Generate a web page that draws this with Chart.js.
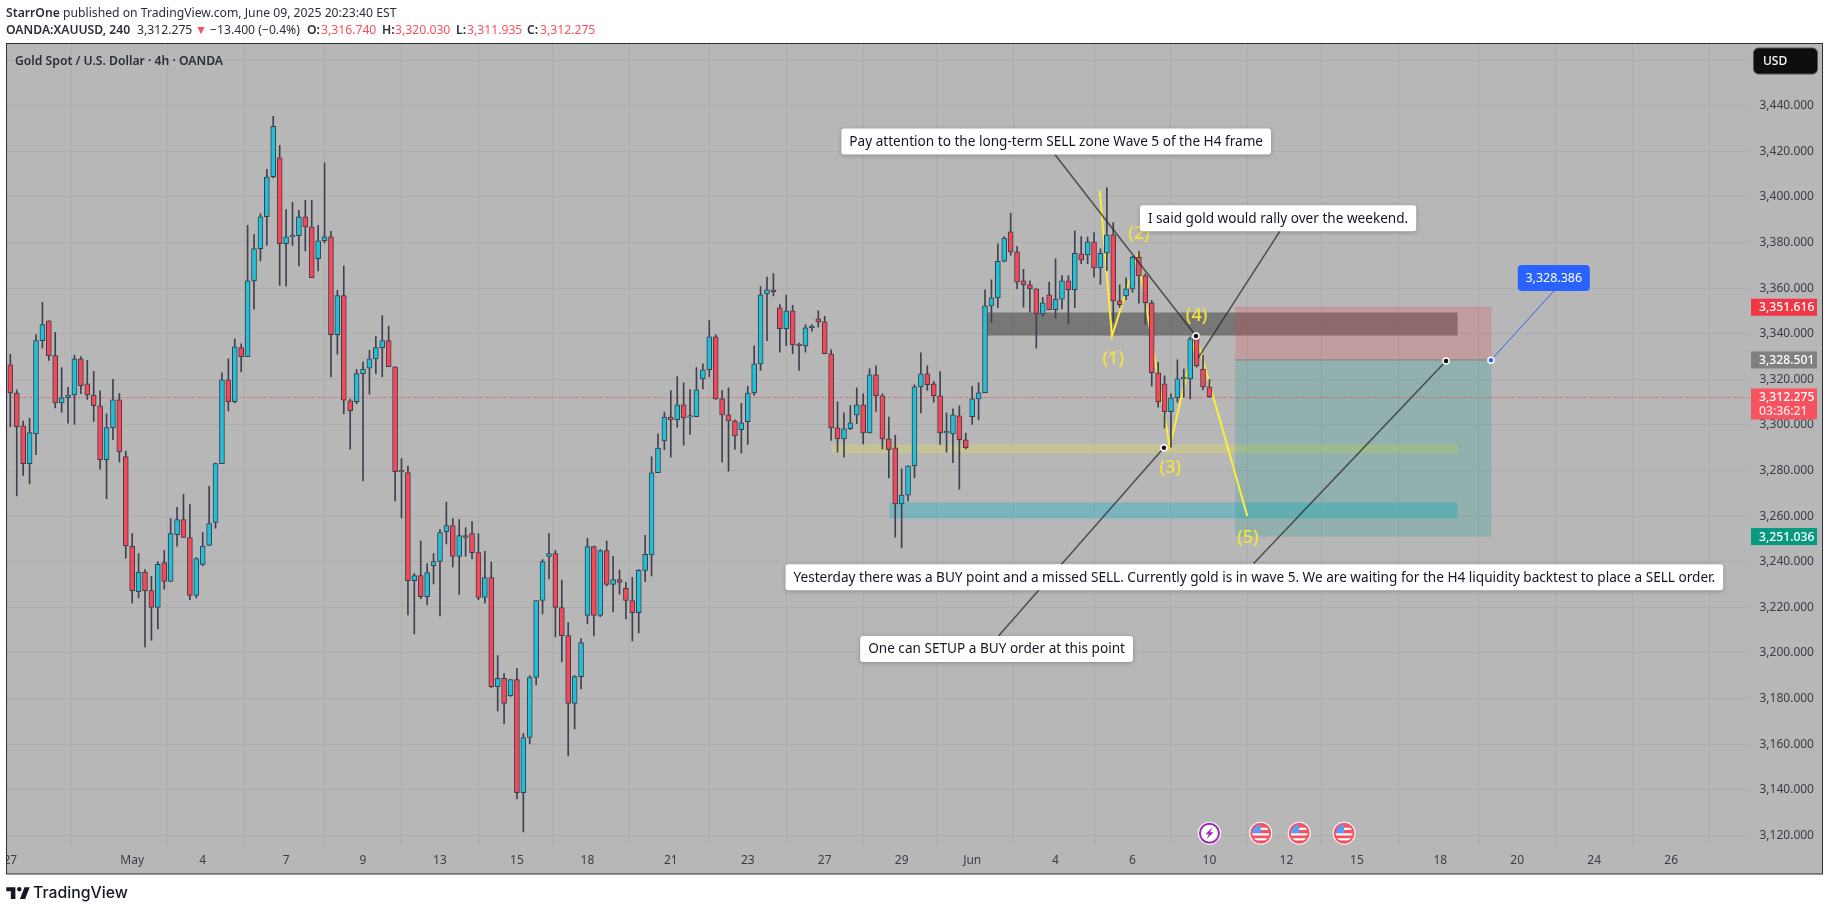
<!DOCTYPE html>
<html><head><meta charset="utf-8">
<style>
html,body{margin:0;padding:0;background:#fff;width:1829px;height:911px;overflow:hidden}
#wrap{position:relative;width:1829px;height:911px}
canvas{position:absolute;left:0;top:0}
.t{position:absolute;white-space:nowrap;font-family:"Noto Sans",sans-serif;font-size:12.2px;line-height:16px;color:#2a2e39}
.b{font-weight:600}.r{color:#f7525f}
</style></head><body><div id="wrap">
<canvas id="c" width="1829" height="911"></canvas>
<div class="t b" style="left:6px;top:5px">StarrOne<span style="font-weight:400"> published on TradingView.com, June 09, 2025 20:23:40 EST</span></div>
<div class="t b" style="left:6px;top:22px">OANDA:XAUUSD, 240</div>
<div class="t" style="left:137px;top:22px">3,312.275</div>
<div class="t r" style="left:195px;top:22px">▼</div>
<div class="t" style="left:210px;top:22px">−13.400 (−0.4%)</div>
<div class="t b" style="left:307px;top:22px">O:</div><div class="t r" style="left:321px;top:22px">3,316.740</div>
<div class="t b" style="left:382px;top:22px">H:</div><div class="t r" style="left:395px;top:22px">3,320.030</div>
<div class="t b" style="left:456px;top:22px">L:</div><div class="t r" style="left:467px;top:22px">3,311.935</div>
<div class="t b" style="left:527px;top:22px">C:</div><div class="t r" style="left:540px;top:22px">3,312.275</div>
<div class="t b" style="left:15px;top:53px">Gold Spot / U.S. Dollar · 4h · OANDA</div>
<svg style="position:absolute;left:6px;top:886px" width="24" height="13" viewBox="0 0 36 20"><path fill="#131722" d="M14 2H0v6h7v12h7V2ZM29 20h-8l7-18h8L29 20Z"/><circle cx="20" cy="5" r="3.4" fill="#131722"/></svg>
<div class="t" style="left:33px;top:882px;font-size:15.8px;line-height:22px;font-weight:500;color:#131722;font-family:Inter,sans-serif">TradingView</div>
</div>
<script src="https://cdn.jsdelivr.net/npm/chart.js@4/dist/chart.umd.min.js"></script>
<script>
const candleOpen=[3326.4,3314,3299.6,3283,3296.1,3337,3345.7,3330.4,3309.7,3311.9,
3313.2,3329,3318,3313.1,3308.4,3284.8,3298.8,3311,3286.1,3246.9,
3226.9,3235.5,3227.3,3219.9,3239.6,3231.3,3251.9,3258.5,3250.6,3225.2,
3238.8,3247.1,3257.2,3283,3319.8,3310.2,3333.9,3329.9,3363.2,3377.3,
3391.3,3408.9,3417.2,3379.5,3382.5,3383,3391.3,3386.9,3372.9,3380.8,
3382.5,3339.6,3356.7,3310.6,3310.2,3322.5,3324.9,3329,3333.9,3337,
3325.5,3279.6,3279.1,3231.7,3233.9,3224.7,3238.3,3240.1,3253.2,3255.9,
3242.3,3251.5,3252.3,3244,3224.3,3233,3185.2,3188.8,3181.2,3188.3,
3138.7,3162.9,3189.2,3223,3242.3,3243.6,3219.9,3207.6,3177.8,3189.6,
3216.4,3246.6,3216.4,3244.9,3230,3232.2,3228.3,3223,3217.7,3236.2,
3243,3279,3293,3303.4,3302.2,3308.8,3303.4,3303.6,3320.2,3324.2,
3338.6,3311.4,3304.4,3301.8,3297.9,3301.4,3314,3326.8,3357.5,3359.3,
3351.4,3342.2,3350,3335.1,3334.7,3342.6,3346.5,3345.2,3331.2,3298.7,
3293.9,3298.3,3304.4,3308.8,3296.5,3322,3312.8,3293.9,3290,3265.4,
3269.2,3282.1,3316.7,3322.4,3318,3312.8,3296.5,3296,3304,3293.5,
3303.6,3311.4,3314.1,3352.2,3355.7,3371.8,3384.7,3375.9,3363.2,3361.5,
3359.7,3348.7,3357.1,3350.5,3355.2,3363.2,3359.3,3375,3374.6,3380.3,
3368.9,3375.3,3383.4,3354.4,3356.6,3359.7,3373.6,3365.4,3353.6,3322.9,
3318,3305.8,3311.9,3320.2,3320.2,3338.5,3324.5,3316.74];
const candleHigh=[3331,3315.4,3301.7,3302.9,3339.6,3353.8,3345.7,3340.6,3325.2,3316.5,
3330.6,3330,3328.3,3323.5,3315,3304.9,3320,3313.7,3288.5,3252.3,
3243.6,3236.6,3233.6,3239.9,3245,3258.9,3263.8,3269.6,3265.1,3241.8,
3252.8,3273.1,3283.3,3322.9,3329,3337.8,3335.6,3387.5,3383.6,3392.6,
3412.1,3435.3,3422.6,3394.4,3397.6,3394.1,3398.5,3398.5,3387.5,3415,
3384.9,3359,3369.8,3311.3,3324.4,3327.7,3332.7,3338.7,3348,3343.2,
3325.5,3285.2,3281.9,3234.8,3249,3239.2,3243.6,3254.1,3266.1,3258.9,
3258.5,3255,3257.6,3252.3,3244.5,3239.8,3198.8,3190.9,3188.3,3193.1,
3164.6,3190.1,3223,3240.9,3252.3,3244.9,3231.9,3213.3,3190.1,3206.3,
3250.2,3246.9,3245.3,3249,3242.4,3236.3,3231,3233.1,3236.6,3251.6,
3286,3296.1,3305.6,3315.1,3321.2,3318.5,3315.5,3325.2,3326.8,3345.8,
3339.5,3315.1,3316.3,3302.2,3309.5,3316.9,3334.7,3360.7,3364.8,3366.4,
3352.8,3357,3352.4,3335.9,3344,3344,3350,3347.6,3332.9,3310.1,
3305.3,3308.5,3316.3,3313.6,3324.6,3325.9,3313.6,3303.4,3295.4,3280.7,
3282.1,3317.6,3331.6,3325.9,3319,3323.4,3305.2,3307.1,3308.4,3296.4,
3316.9,3318.5,3359.3,3363.6,3379.4,3382.6,3392.9,3378.3,3368.2,3363.2,
3359.7,3356,3362.6,3372.9,3365.5,3365.5,3385.1,3382.6,3382.4,3384.4,
3377.2,3404,3388.8,3361.5,3364.5,3373.9,3376,3366.3,3354.6,3327.4,
3321.5,3313.6,3328.6,3324.5,3338.5,3340,3330.5,3320.03];
const candleLow=[3299.1,3268.9,3277.9,3274.1,3287,3333.7,3328.3,3307.5,3305.6,3300.8,
3300.2,3313.7,3311.2,3301.5,3280.6,3267.6,3293.5,3283.8,3241.5,3221.9,
3224.1,3202.6,3205.6,3210.5,3227.9,3231.3,3246.8,3250.6,3223.3,3224.1,
3238.3,3247.1,3254.7,3283,3306.1,3309.7,3323.2,3329.9,3350.8,3371.9,
3378.7,3408.3,3361.2,3360.9,3378.7,3369.7,3376.3,3364.6,3367.5,3379.8,
3321,3331,3304.8,3289.4,3309.3,3275.4,3313.5,3322.5,3321,3325.5,
3266.7,3259.2,3216.7,3208.3,3223.8,3221,3230.3,3216.2,3247.8,3237.7,
3225.7,3242.4,3241.2,3223.4,3221.9,3184.8,3174.6,3168.9,3180.9,3136,
3121.5,3160.1,3186,3217.1,3232.5,3207,3196.1,3154.8,3166.7,3184.2,
3212.7,3207.5,3215.9,3229.4,3218,3225.8,3214.9,3205.3,3208.8,3231.2,
3233.8,3279,3289.1,3285.9,3299,3291.1,3295.8,3303.6,3315.8,3321,
3311.2,3283.7,3279.7,3289.2,3287.6,3291.4,3312.9,3323.9,3337,3356.6,
3331.9,3334.8,3331.2,3323.9,3331.9,3341.1,3342.9,3331.2,3293.2,3288.1,
3285.9,3297.9,3300.5,3291.7,3296.5,3305.9,3289.5,3276.7,3250.8,3246.1,
3266.6,3276.7,3305.3,3315.1,3310,3291.4,3288.1,3283.4,3271.8,3289.5,
3300.2,3302.2,3314.1,3345.1,3351.4,3371.5,3374.5,3359.8,3351.7,3349.5,
3333.7,3347.7,3350.5,3346.8,3350.9,3344.3,3351.4,3370.7,3370.7,3364.8,
3361.6,3367.7,3345,3351.5,3354.9,3358.2,3353.4,3344.1,3317,3307.8,
3298.7,3290.2,3310,3312.2,3311.4,3325.3,3315.3,3311.935];
const candleClose=[3314,3299.2,3283,3296.6,3337,3344,3330.4,3309.7,3311.9,3313.1,
3329,3317.2,3313.2,3308.4,3284.8,3298.8,3311,3288.2,3246.9,3227.3,
3235.5,3227.3,3219.9,3238.8,3231.3,3252.3,3258.5,3250.6,3225.2,3241.4,
3246.9,3256.7,3283,3319.8,3310.2,3334.2,3329.9,3363.2,3377.3,3391.3,
3408.7,3431,3379.5,3382.5,3383,3391.3,3386.9,3364.6,3380.8,3382.5,
3339.6,3356.7,3310.8,3306.2,3322.5,3324.5,3329,3333.9,3337,3325.5,
3279.5,3279.4,3231.7,3233.9,3224.7,3235.2,3240.1,3252.8,3255.9,3242.3,
3251.5,3250.6,3244,3224.3,3233,3185.2,3188.8,3177.8,3188.3,3138.7,
3162.9,3189.2,3223,3240.1,3243.6,3219.9,3207.6,3177.8,3189.6,3204.5,
3246.6,3216.4,3244.9,3230,3232.2,3230.9,3223,3217.7,3236.2,3243.2,
3279,3289.8,3303.4,3302.2,3308.8,3303.1,3303.6,3315.4,3324.2,3338.6,
3311.4,3304.4,3301.8,3295.2,3300.9,3314,3326.8,3357.1,3359.3,3358.4,
3342.2,3350,3335.1,3334.8,3342.6,3342.9,3345.2,3331.2,3298.7,3293.9,
3298.3,3300.9,3308.8,3296.5,3322,3312.8,3293.9,3289.1,3265.4,3269.2,
3282.1,3316.7,3322.4,3317.6,3312.8,3296.5,3296.7,3304.4,3293.5,3290,
3311.4,3314.1,3352.2,3355.7,3371.8,3382,3375.9,3362.6,3361.5,3359.7,
3348.7,3353.6,3350.5,3355.2,3363.2,3359.3,3375.3,3372.4,3380.3,3368.9,
3375.3,3383.4,3354.4,3352.7,3359.7,3373.6,3365.4,3353.6,3322.9,3310.1,
3305.8,3311.9,3320.2,3320.4,3337.8,3325.9,3316.7,3312.275];

const timeTickIndex=[0,19,30,43,55,67,79,90,103,115,127,139,150,163,175,187,199,210,223,235,247,259];
const timeTickLabel=["27","May","4","7","9","13","15","18","21","23","27","29","Jun","4","6","10","12","15","18","20","24","26"];
const priceTicks=[3120,3140,3160,3180,3200,3220,3240,3260,3280,3300,3320,3340,3360,3380,3400,3420,3440,3460];

const waveIndex=[169.9,171.8,175.8,180.8,184.9,192.9];
const wavePrice=[3402.8,3338.9,3374.4,3290.4,3339,3260];
const waveLabelIndex=[172,176,180.9,185,193];
const waveLabelPrice=[3329,3383.6,3281,3348,3250.6];
const waveLabelText=["(1)","(2)","(3)","(4)","(5)"];

const zoneStart=[152.2,128.1,137.1];
const zoneEnd=[225.7,225.7,225.7];
const zoneTop=[3349.3,3291.4,3266];
const zoneBottom=[3339.2,3287.5,3259];
const zoneFill=["rgba(55,55,55,0.5)","rgba(235,225,70,0.3)","rgba(30,175,200,0.38)"];

const posStart=191, posEnd=231;
const posStop=3351.616, posEntry=3328.501, posTarget=3251.036;
const lastPrice=3312.275;

const trendLines=[
 {x:[162.9,184.9],y:[3418.6,3339]},
 {x:[198,185.2],y:[3385,3329.2]},
 {x:[154.1,179.9],y:[3207.4,3290]},
 {x:[193.9,223.9],y:[3239.2,3328]}
];
const anchorIndex=[179.9,184.9,223.9];
const anchorPrice=[3290,3339,3328];
const blueLineIndex=[230.9,240.7];
const blueLinePrice=[3328.4,3358.7];

const calloutText=["Pay attention to the long-term SELL zone Wave 5 of the H4 frame","I said gold would rally over the weekend.","Yesterday there was a BUY point and a missed SELL. Currently gold is in wave 5. We are waiting for the H4 liquidity backtest to place a SELL order.","One can SETUP a BUY order at this point"];
const calloutIndex=[163.1,197.7,194,153.8];
const calloutPrice=[3424.35,3390.7,3233.2,3201.7];

const eventIndex=[187,195,201,208];
const eventKind=["bolt","us","us","us"];
const eventPrice=3120.9;

const FONT='"Noto Sans",sans-serif';
const BG='#b7b7b7', GRID='#adadad';
const pts=(xs,ys)=>xs.map((x,i)=>({x,y:ys[i]}));

const framePlugin={id:'frame',
 beforeDraw(ch){const c=ch.ctx;c.save();c.fillStyle=BG;c.fillRect(6,43,1817,831);c.restore();},
 beforeDatasetsDraw(ch){
  const c=ch.ctx,X=ch.scales.x,Y=ch.scales.y;c.save();
  zoneStart.forEach((s,i)=>{c.fillStyle=zoneFill[i];
   const x0=X.getPixelForValue(s),x1=X.getPixelForValue(zoneEnd[i]),y0=Y.getPixelForValue(zoneTop[i]),y1=Y.getPixelForValue(zoneBottom[i]);
   c.fillRect(x0,y0,x1-x0,y1-y0);});
  const a=X.getPixelForValue(posStart),b=X.getPixelForValue(posEnd),s=Y.getPixelForValue(posStop),e=Y.getPixelForValue(posEntry),t=Y.getPixelForValue(posTarget);
  c.fillStyle='rgba(242,54,69,0.2)';c.fillRect(a,s,b-a,e-s);
  c.fillStyle='rgba(0,150,136,0.2)';c.fillRect(a,e,b-a,t-e);
  c.strokeStyle='rgba(242,54,69,0.25)';c.lineWidth=1;c.beginPath();c.moveTo(a,s+.5);c.lineTo(b,s+.5);c.stroke();
  c.strokeStyle='#808080';c.beginPath();c.moveTo(a,e);c.lineTo(b,e);c.stroke();
  const l=Y.getPixelForValue(lastPrice);
  c.strokeStyle='#f23645';c.setLineDash([1,2]);c.beginPath();c.moveTo(ch.chartArea.left,Math.round(l)+.5);c.lineTo(ch.chartArea.right,Math.round(l)+.5);c.stroke();
  c.restore();
 },
 afterDatasetsDraw(ch){
  const c=ch.ctx,X=ch.scales.x,Y=ch.scales.y;c.save();
  c.textAlign='center';c.textBaseline='middle';
  c.font='500 18px '+FONT;c.fillStyle='#f5e33b';
  waveLabelText.forEach((t,i)=>c.fillText(t,X.getPixelForValue(waveLabelIndex[i]),Y.getPixelForValue(waveLabelPrice[i])));
  c.font='13.6px '+FONT;
  calloutText.forEach((t,i)=>{
   const w=c.measureText(t).width+16,h=26,x=X.getPixelForValue(calloutIndex[i])-w/2,y=Y.getPixelForValue(calloutPrice[i])-h/2;
   c.save();c.shadowColor='rgba(0,0,0,0.25)';c.shadowBlur=4;c.shadowOffsetY=1;c.fillStyle='#fff';
   c.beginPath();c.roundRect(x,y,w,h,3);c.fill();c.restore();
   c.fillStyle='#131722';c.fillText(t,x+w/2,y+h/2+.5);
  });
  const bx=X.getPixelForValue(blueLineIndex[1]),by=Y.getPixelForValue(blueLinePrice[1]);
  c.fillStyle='#2962ff';c.beginPath();c.roundRect(bx-36,by-26,72,26,4);c.fill();
  c.fillStyle='#fff';c.font='12.5px '+FONT;c.fillText('3,328.386',bx,by-13);
  eventIndex.forEach((v,i)=>{
   const x=X.getPixelForValue(v),y=Y.getPixelForValue(eventPrice);
   c.fillStyle='#fff';c.beginPath();c.arc(x,y,11.5,0,7);c.fill();
   if(eventKind[i]==='bolt'){
    c.strokeStyle='#9c27b0';c.lineWidth=2;c.beginPath();c.arc(x,y,9.5,0,7);c.stroke();
    c.fillStyle='#9c27b0';c.beginPath();c.moveTo(x+3,y-6);c.lineTo(x-4,y+1);c.lineTo(x-.5,y+1);c.lineTo(x-3,y+6);c.lineTo(x+4,y-1);c.lineTo(x+.5,y-1);c.closePath();c.fill();
   }else{
    c.save();c.beginPath();c.arc(x,y,9,0,7);c.clip();
    c.fillStyle='#f7525f';c.fillRect(x-10,y-10,20,20);
    c.fillStyle='#fff';c.fillRect(x-10,y-5.5,20,2.2);c.fillRect(x-10,y,20,2.2);c.fillRect(x-10,y+5,20,2.2);
    c.fillStyle='#5b9cf6';c.fillRect(x-10,y-10,10,10);c.restore();
    c.strokeStyle='#f7525f';c.lineWidth=2;c.beginPath();c.arc(x,y,9.5,0,7);c.stroke();
   }
  });
  c.restore();
 },
 afterDraw(ch){
  const c=ch.ctx,Y=ch.scales.y;c.save();
  c.fillStyle='#fff';c.fillRect(0,43,6,831);
  c.strokeStyle='#2a2e39';c.lineWidth=1;c.strokeRect(6.5,43.5,1816,830.5);
  const tag=(p,col,txt,h)=>{const y=Y.getPixelForValue(p);c.fillStyle=col;c.fillRect(1751,y-h/2,66,h);
    c.fillStyle='#fff';c.textAlign='left';c.textBaseline='middle';c.font='500 12.2px '+FONT;c.fillText(txt,1759,y+.5);};
  tag(posStop,'#f23645','3,351.616',17);
  tag(posEntry,'#808080','3,328.501',17);
  tag(posTarget,'#089981','3,251.036',17);
  const ly=Y.getPixelForValue(lastPrice);
  c.fillStyle='#f7525f';c.fillRect(1751,ly-8.5,66,31);
  c.fillStyle='#fff';c.font='500 12.2px '+FONT;c.textAlign='left';c.textBaseline='middle';c.fillText('3,312.275',1759,ly+.5);
  c.fillStyle='rgba(255,255,255,.85)';c.fillText('03:36:21',1759,ly+15);
  c.fillStyle='#0e0e0e';c.strokeStyle='#555';c.beginPath();c.roundRect(1753.5,48,64,26,5);c.fill();c.stroke();
  c.fillStyle='#fff';c.font='500 12px '+FONT;c.fillText('USD',1763,61.5);
  c.restore();
 }
};

const isUp=candleClose.map((v,i)=>v>=candleOpen[i]);
new Chart(document.getElementById('c'),{
 type:'bar',
 plugins:[framePlugin],
 data:{datasets:[
  {type:'bar',order:1,data:candleOpen.map((o,i)=>({x:i,y:[Math.min(o,candleClose[i]),Math.max(o,candleClose[i])]})),
   backgroundColor:isUp.map(u=>u?'#1fc0d8':'#f7485a'),borderColor:'#3a3d4a',borderWidth:1,barThickness:5,minBarLength:1.5,grouped:false,borderSkipped:false},
  {type:'bar',order:2,data:candleHigh.map((h,i)=>({x:i,y:[candleLow[i],h]})),backgroundColor:'#3f424e',barThickness:1,grouped:false},
  {type:'line',order:3,data:pts(waveIndex,wavePrice),borderColor:'#ffeb3b',borderWidth:2,pointRadius:0,tension:0},
  ...trendLines.map(l=>({type:'line',order:0.5,data:pts(l.x,l.y),borderColor:'rgba(40,40,40,0.75)',borderWidth:1.5,pointRadius:0,tension:0})),
  {type:'line',order:0.4,data:pts(blueLineIndex,blueLinePrice),borderColor:'#2962ff',borderWidth:1,pointRadius:0,tension:0},
  {type:'line',order:0.3,data:pts(anchorIndex,anchorPrice),showLine:false,pointRadius:3,pointBackgroundColor:'#111',pointBorderColor:'#fff',pointBorderWidth:1.5},
  {type:'line',order:0.3,data:[{x:blueLineIndex[0],y:blueLinePrice[0]}],showLine:false,pointRadius:3,pointBackgroundColor:'#2962ff',pointBorderColor:'#fff',pointBorderWidth:1.5}
 ]},
 options:{
  responsive:false,animation:false,parsing:true,
  layout:{padding:{left:6.5,top:43.5,right:6.5,bottom:37}},
  plugins:{legend:{display:false},tooltip:{enabled:false},title:{display:false}},
  scales:{
   x:{type:'linear',offset:false,min:-0.6,max:271.3,position:'bottom',
    afterBuildTicks(s){s.ticks=timeTickIndex.map(value=>({value}));},
    afterFit(s){s.height=28;s.paddingLeft=0;s.paddingRight=0;},
    grid:{color:GRID,drawTicks:false,lineWidth:1},border:{display:false},
    ticks:{autoSkip:false,maxRotation:0,padding:7,color:'#3a3d48',font:{family:FONT,size:12},
     callback(v){const k=timeTickIndex.indexOf(v);return k>=0?timeTickLabel[k]:'';}}},
   y:{type:'linear',position:'right',min:3115.3,max:3467.3,
    afterBuildTicks(s){s.ticks=priceTicks.map(value=>({value}));},
    afterFit(s){s.width=72.5;s.paddingTop=0;s.paddingBottom=0;},
    grid:{color:GRID,drawTicks:false,lineWidth:1},border:{display:false},
    ticks:{padding:9.5,color:'#3a3d48',align:'center',crossAlign:'near',font:{family:FONT,size:12},
     callback(v){return v.toLocaleString('en-US',{minimumFractionDigits:3,maximumFractionDigits:3});}}}
  }
 }
});
</script></body></html>
